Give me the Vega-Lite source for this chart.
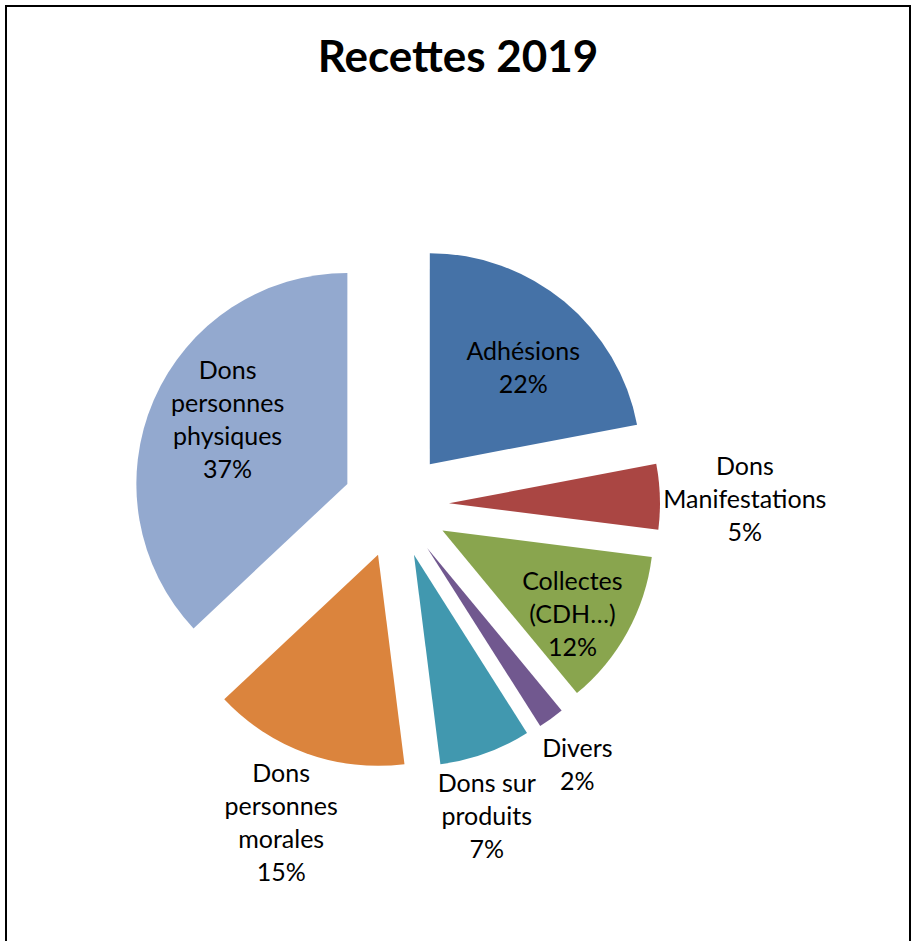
{
  "$schema": "https://vega.github.io/schema/vega-lite/v6.json",
  "width": 904,
  "height": 940,
  "autosize": {"type": "none"},
  "padding": {"left": 6, "top": 6, "right": 2, "bottom": -5},
  "background": "white",
  "title": {
    "text": "Recettes 2019",
    "font": "Lato",
    "fontSize": 44,
    "fontWeight": "bold",
    "color": "black",
    "anchor": "middle",
    "frame": "group",
    "baseline": "alphabetic",
    "offset": -110
  },
  "data": {
    "values": [
      {"category": "Adhésions", "value": 22, "label": "Adhésions\n22%"},
      {"category": "Dons Manifestations", "value": 5, "label": "Dons\nManifestations\n5%"},
      {"category": "Collectes (CDH…)", "value": 12, "label": "Collectes\n(CDH…)\n12%"},
      {"category": "Divers", "value": 2, "label": "Divers\n2%"},
      {"category": "Dons sur produits", "value": 7, "label": "Dons sur\nproduits\n7%"},
      {"category": "Dons personnes morales", "value": 15, "label": "Dons\npersonnes\nmorales\n15%"},
      {"category": "Dons personnes physiques", "value": 37, "label": "Dons\npersonnes\nphysiques\n37%"}
    ]
  },
  "transform": [
    {"window": [{"op": "sum", "field": "value", "as": "cum"}], "frame": [null, 0]},
    {"calculate": "datum.cum - datum.value", "as": "start"},
    {"calculate": "datum.cum - datum.value / 2", "as": "mid"},
    {"calculate": "sin(2 * PI * datum.mid / 100)", "as": "ux"},
    {"calculate": "-cos(2 * PI * datum.mid / 100)", "as": "uy"}
  ],
  "layer": [
    {
      "mark": {"type": "arc", "radius": 211, "stroke": null},
      "encoding": {
        "theta": {"field": "start", "type": "quantitative", "stack": null, "scale": {"domain": [0, 100], "range": [0, 6.283185307]}},
        "theta2": {"field": "cum"},
        "x": {"field": "ux", "type": "quantitative", "axis": null, "scale": {"domain": [-1, 1], "range": [337, 443], "zero": false, "nice": false}},
        "y": {"field": "uy", "type": "quantitative", "axis": null, "scale": {"domain": [-1, 1], "range": [446, 552], "zero": false, "nice": false}},
        "color": {
          "field": "category",
          "type": "nominal",
          "legend": null,
          "scale": {
            "domain": ["Adhésions", "Dons Manifestations", "Collectes (CDH…)", "Divers", "Dons sur produits", "Dons personnes morales", "Dons personnes physiques"],
            "range": ["#4572A7", "#AA4643", "#89A54E", "#71588F", "#4198AF", "#DB843D", "#93A9CF"]
          }
        }
      }
    },
    {
      "transform": [{"filter": {"field": "category", "equal": "Adhésions"}}],
      "mark": {"type": "text", "radius": 187, "dy": -8.5, "dx": 8, "font": "Lato", "fontSize": 25, "lineBreak": "\n", "lineHeight": 33, "align": "center", "baseline": "middle", "color": "black"},
      "encoding": {
        "theta": {"field": "mid", "type": "quantitative", "stack": null, "scale": {"domain": [0, 100], "range": [0, 6.283185307]}},
        "x": {"datum": 0, "type": "quantitative", "axis": null, "scale": {"domain": [-1, 1], "range": [337, 443], "zero": false, "nice": false}},
        "y": {"datum": 0, "type": "quantitative", "axis": null, "scale": {"domain": [-1, 1], "range": [446, 552], "zero": false, "nice": false}},
        "text": {"field": "label"}
      }
    },
    {
      "transform": [{"filter": {"field": "category", "equal": "Collectes (CDH…)"}}],
      "mark": {"type": "text", "radius": 207, "dy": -23, "dx": -5, "font": "Lato", "fontSize": 25, "lineBreak": "\n", "lineHeight": 33, "align": "center", "baseline": "middle", "color": "black"},
      "encoding": {
        "theta": {"field": "mid", "type": "quantitative", "stack": null, "scale": {"domain": [0, 100], "range": [0, 6.283185307]}},
        "x": {"datum": 0, "type": "quantitative", "axis": null, "scale": {"domain": [-1, 1], "range": [337, 443], "zero": false, "nice": false}},
        "y": {"datum": 0, "type": "quantitative", "axis": null, "scale": {"domain": [-1, 1], "range": [446, 552], "zero": false, "nice": false}},
        "text": {"field": "label"}
      }
    },
    {
      "transform": [{"filter": {"field": "category", "equal": "Dons personnes physiques"}}],
      "mark": {"type": "text", "radius": 190, "dy": -58.5, "dx": 6, "font": "Lato", "fontSize": 25, "lineBreak": "\n", "lineHeight": 33, "align": "center", "baseline": "middle", "color": "black"},
      "encoding": {
        "theta": {"field": "mid", "type": "quantitative", "stack": null, "scale": {"domain": [0, 100], "range": [0, 6.283185307]}},
        "x": {"datum": 0, "type": "quantitative", "axis": null, "scale": {"domain": [-1, 1], "range": [337, 443], "zero": false, "nice": false}},
        "y": {"datum": 0, "type": "quantitative", "axis": null, "scale": {"domain": [-1, 1], "range": [446, 552], "zero": false, "nice": false}},
        "text": {"field": "label"}
      }
    },
    {
      "transform": [{"filter": {"field": "category", "equal": "Divers"}}],
      "mark": {"type": "text", "radius": 317, "dy": -12.5, "dx": -5, "font": "Lato", "fontSize": 25, "lineBreak": "\n", "lineHeight": 33, "align": "center", "baseline": "middle", "color": "black"},
      "encoding": {
        "theta": {"field": "mid", "type": "quantitative", "stack": null, "scale": {"domain": [0, 100], "range": [0, 6.283185307]}},
        "x": {"datum": 0, "type": "quantitative", "axis": null, "scale": {"domain": [-1, 1], "range": [337, 443], "zero": false, "nice": false}},
        "y": {"datum": 0, "type": "quantitative", "axis": null, "scale": {"domain": [-1, 1], "range": [446, 552], "zero": false, "nice": false}},
        "text": {"field": "label"}
      }
    },
    {
      "transform": [{"filter": {"field": "category", "equal": "Dons Manifestations"}}],
      "mark": {"type": "text", "radius": 349, "dy": -27, "font": "Lato", "fontSize": 25, "lineBreak": "\n", "lineHeight": 33, "align": "center", "baseline": "middle", "color": "black"},
      "encoding": {
        "theta": {"field": "mid", "type": "quantitative", "stack": null, "scale": {"domain": [0, 100], "range": [0, 6.283185307]}},
        "x": {"datum": 0, "type": "quantitative", "axis": null, "scale": {"domain": [-1, 1], "range": [337, 443], "zero": false, "nice": false}},
        "y": {"datum": 0, "type": "quantitative", "axis": null, "scale": {"domain": [-1, 1], "range": [446, 552], "zero": false, "nice": false}},
        "text": {"field": "label"}
      }
    },
    {
      "transform": [{"filter": {"field": "category", "equal": "Dons sur produits"}}],
      "mark": {"type": "text", "radius": 324, "dy": -26, "dx": -19, "font": "Lato", "fontSize": 25, "lineBreak": "\n", "lineHeight": 33, "align": "center", "baseline": "middle", "color": "black"},
      "encoding": {
        "theta": {"field": "mid", "type": "quantitative", "stack": null, "scale": {"domain": [0, 100], "range": [0, 6.283185307]}},
        "x": {"datum": 0, "type": "quantitative", "axis": null, "scale": {"domain": [-1, 1], "range": [337, 443], "zero": false, "nice": false}},
        "y": {"datum": 0, "type": "quantitative", "axis": null, "scale": {"domain": [-1, 1], "range": [446, 552], "zero": false, "nice": false}},
        "text": {"field": "label"}
      }
    },
    {
      "transform": [{"filter": {"field": "category", "equal": "Dons personnes morales"}}],
      "mark": {"type": "text", "radius": 339, "dy": -49.5, "font": "Lato", "fontSize": 25, "lineBreak": "\n", "lineHeight": 33, "align": "center", "baseline": "middle", "color": "black"},
      "encoding": {
        "theta": {"field": "mid", "type": "quantitative", "stack": null, "scale": {"domain": [0, 100], "range": [0, 6.283185307]}},
        "x": {"datum": 0, "type": "quantitative", "axis": null, "scale": {"domain": [-1, 1], "range": [337, 443], "zero": false, "nice": false}},
        "y": {"datum": 0, "type": "quantitative", "axis": null, "scale": {"domain": [-1, 1], "range": [446, 552], "zero": false, "nice": false}},
        "text": {"field": "label"}
      }
    }
  ],
  "config": {
    "view": {"stroke": "black", "strokeWidth": 2}
  }
}
